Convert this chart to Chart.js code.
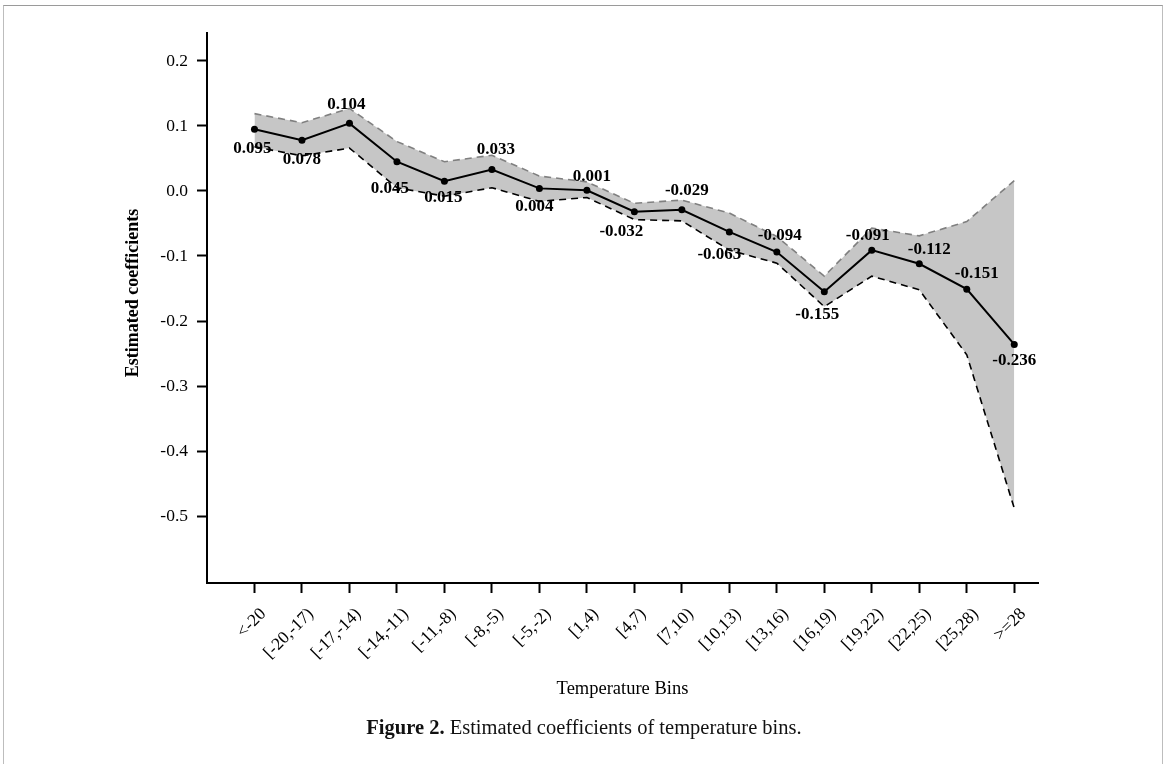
<!DOCTYPE html>
<html>
<head>
<meta charset="utf-8">
<script src="https://cdn.jsdelivr.net/npm/chart.js@4/dist/chart.umd.min.js"></script>
<style>
  html, body { margin: 0; padding: 0; background: #fff; }
  #wrap { position: relative; width: 1168px; height: 764px; overflow: hidden; }
  #frame { position: absolute; left: 3px; top: 5px; width: 1158px; height: 820px;
           border: 1px solid #bdbdbd; border-top-color: #9a9a9a; }
  canvas { position: absolute; left: 0; top: 0; }
  #caption { position: absolute; left: 0; top: 716px; width: 1168px; text-align: center;
             font-family: "Liberation Serif", serif; font-size: 20.5px; color: #111; }
</style>
</head>
<body>
<div id="wrap">
  <div id="frame"></div>
  <canvas id="c" width="1168" height="764"></canvas>
  <div id="caption"><b>Figure 2.</b> Estimated coefficients of temperature bins.</div>
</div>
<script>
// Temperature bins (°C) and the estimated coefficients with their confidence bounds
const bins = ['<-20', '[-20,-17)', '[-17,-14)', '[-14,-11)', '[-11,-8)', '[-8,-5)', '[-5,-2)',
              '[1,4)', '[4,7)', '[7,10)', '[10,13)', '[13,16)', '[16,19)', '[19,22)',
              '[22,25)', '[25,28)', '>=28'];
const estimates  = [0.095, 0.078, 0.104, 0.045, 0.015, 0.033, 0.004, 0.001, -0.032, -0.029,
                    -0.063, -0.094, -0.155, -0.091, -0.112, -0.151, -0.236];
const upperBound = [0.119, 0.105, 0.127, 0.076, 0.045, 0.055, 0.023, 0.014, -0.019, -0.014,
                    -0.034, -0.070, -0.131, -0.057, -0.069, -0.047, 0.016];
const lowerBound = [0.068, 0.054, 0.066, 0.005, -0.008, 0.005, -0.016, -0.010, -0.044, -0.046,
                    -0.091, -0.111, -0.178, -0.131, -0.152, -0.252, -0.488];
const yTickValues = [-0.5, -0.4, -0.3, -0.2, -0.1, 0.0, 0.1, 0.2];

// where each value label sits relative to its point (px)
const labelOffsets = [[-2, 19], [0, 19], [-3, -19], [-7, 27], [-1, 16], [4, -20], [-5, 18],
                      [5, -14], [-13, 20], [5, -19], [-10, 23], [3, -16], [-7, 23], [-4, -15],
                      [10, -14], [10, -16], [0, 16]];

const toPoints = arr => arr.map((v, i) => ({ x: i, y: v }));
const SERIF = '"Liberation Serif", "Times New Roman", serif';

const annotate = {
  id: 'annotate',
  afterDatasetsDraw(chart) {
    const ctx = chart.ctx;
    const meta = chart.getDatasetMeta(0);
    ctx.save();
    ctx.font = 'bold 17px ' + SERIF;
    ctx.fillStyle = '#000';
    ctx.textAlign = 'center';
    ctx.textBaseline = 'middle';
    meta.data.forEach((pt, i) => {
      const [dx, dy] = labelOffsets[i];
      ctx.fillText(estimates[i].toFixed(3), pt.x + dx, pt.y + dy);
    });
    ctx.restore();
  },
  afterDraw(chart) {
    const ctx = chart.ctx;
    const area = chart.chartArea;
    ctx.save();
    ctx.fillStyle = '#000';
    ctx.textAlign = 'center';
    ctx.textBaseline = 'middle';
    ctx.font = '18.5px ' + SERIF;
    ctx.fillText('Temperature Bins', (area.left + area.right) / 2, 689);
    ctx.translate(133, 293);
    ctx.rotate(-Math.PI / 2);
    ctx.font = 'bold 18px ' + SERIF;
    ctx.fillText('Estimated coefficients', 0, 0);
    ctx.restore();
  }
};

new Chart(document.getElementById('c'), {
  type: 'line',
  data: {
    datasets: [
      {
        label: 'Estimate',
        data: toPoints(estimates),
        borderColor: '#000',
        backgroundColor: '#000',
        borderWidth: 2,
        pointRadius: 3.5,
        pointBorderWidth: 0,
        pointBackgroundColor: '#000',
        fill: false,
        tension: 0
      },
      {
        label: 'Upper bound',
        data: toPoints(upperBound),
        borderColor: '#808080',
        borderWidth: 1.6,
        borderDash: [7, 5],
        pointRadius: 0,
        backgroundColor: '#c6c6c6',
        fill: '+1',
        tension: 0
      },
      {
        label: 'Lower bound',
        data: toPoints(lowerBound),
        borderColor: '#000',
        borderWidth: 1.6,
        borderDash: [7, 5],
        pointRadius: 0,
        fill: false,
        tension: 0
      }
    ]
  },
  options: {
    responsive: false,
    animation: false,
    devicePixelRatio: 1,
    layout: { padding: { left: 0, right: 130, top: 33, bottom: 61 } },
    plugins: {
      legend: { display: false },
      tooltip: { enabled: false },
      filler: { drawTime: 'beforeDatasetsDraw' }
    },
    scales: {
      x: {
        type: 'linear',
        min: -1,
        max: 16.5,
        afterBuildTicks: s => { s.ticks = bins.map((_, i) => ({ value: i })); },
        afterFit: s => { s.height = 120; },
        grid: { drawOnChartArea: false, drawTicks: true, tickLength: 10, tickWidth: 2, tickColor: '#000' },
        border: { display: true, color: '#000', width: 2 },
        ticks: {
          autoSkip: false,
          minRotation: 45,
          maxRotation: 45,
          padding: 11,
          labelOffset: 9,
          color: '#000',
          font: { family: SERIF, size: 17.5 },
          callback: v => bins[v]
        }
      },
      y: {
        type: 'linear',
        min: -0.603,
        max: 0.243,
        afterBuildTicks: s => { s.ticks = yTickValues.map(v => ({ value: v })); },
        afterFit: s => { s.width = 207; },
        grid: { drawOnChartArea: false, drawTicks: true, tickLength: 10, tickWidth: 2, tickColor: '#000' },
        border: { display: true, color: '#000', width: 2 },
        ticks: {
          padding: 9,
          color: '#000',
          font: { family: SERIF, size: 17.5 },
          callback: v => v.toFixed(1)
        }
      }
    }
  },
  plugins: [annotate]
});
</script>
</body>
</html>
